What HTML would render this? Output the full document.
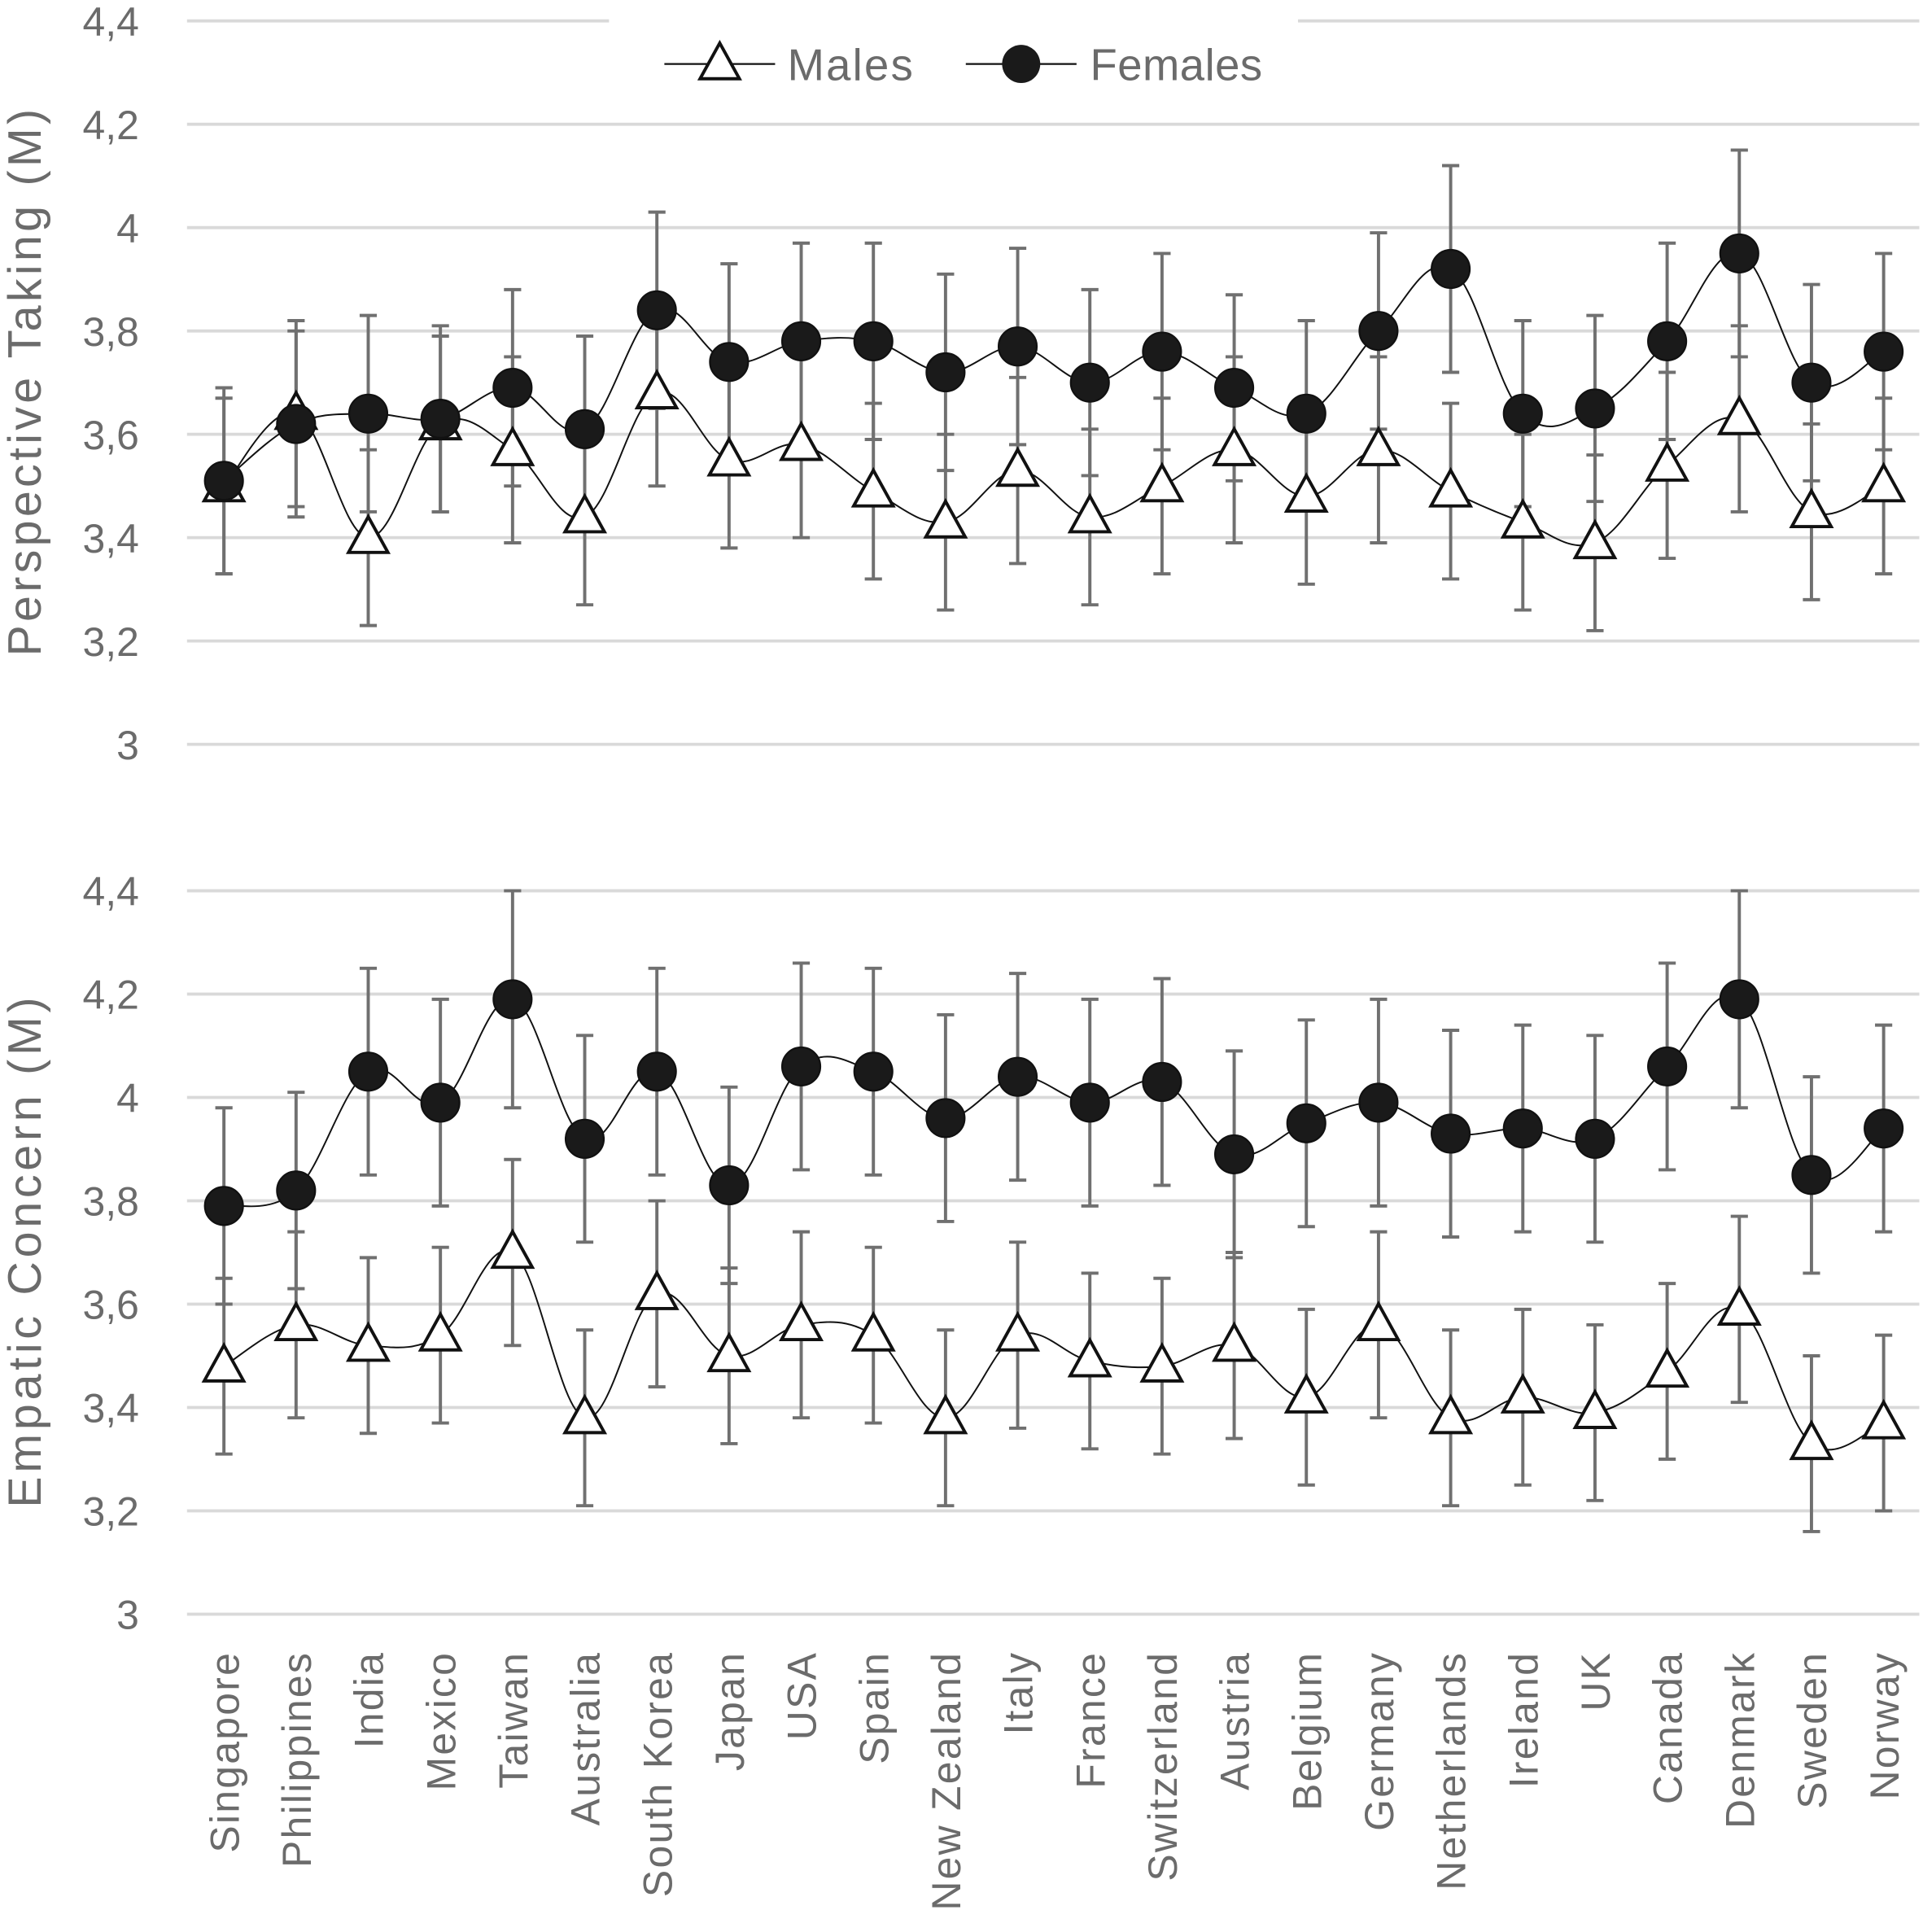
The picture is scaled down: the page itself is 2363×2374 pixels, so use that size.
<!DOCTYPE html>
<html><head><meta charset="utf-8"><style>
html,body{margin:0;padding:0;background:#fff}
svg{display:block}
text{font-family:"Liberation Sans",sans-serif;fill:#6b6b6b}
</style></head><body>
<svg id="chart" width="2363" height="2374" viewBox="0 0 1563 1570.3" preserveAspectRatio="none" xmlns="http://www.w3.org/2000/svg"></svg>
<script>
const categories=["Singapore","Philippines","India","Mexico","Taiwan","Australia","South Korea","Japan","USA","Spain","New Zealand","Italy","France","Switzerland","Austria","Belgium","Germany","Netherlands","Ireland","UK","Canada","Denmark","Sweden","Norway"];
const ptMales=[3.50,3.64,3.40,3.62,3.57,3.44,3.68,3.55,3.58,3.49,3.43,3.53,3.44,3.50,3.57,3.48,3.57,3.49,3.43,3.39,3.54,3.63,3.45,3.50];
const ptMalesErr=[0.17,0.18,0.17,0.17,0.18,0.17,0.18,0.17,0.18,0.17,0.17,0.18,0.17,0.17,0.18,0.17,0.18,0.17,0.17,0.17,0.18,0.18,0.17,0.17];
const ptFemales=[3.51,3.62,3.64,3.63,3.69,3.61,3.84,3.74,3.78,3.78,3.72,3.77,3.70,3.76,3.69,3.64,3.80,3.92,3.64,3.65,3.78,3.95,3.70,3.76];
const ptFemalesErr=[0.18,0.18,0.19,0.18,0.19,0.18,0.19,0.19,0.19,0.19,0.19,0.19,0.18,0.19,0.18,0.18,0.19,0.20,0.18,0.18,0.19,0.20,0.19,0.19];
const ecMales=[3.48,3.56,3.52,3.54,3.70,3.38,3.62,3.50,3.56,3.54,3.38,3.54,3.49,3.48,3.52,3.42,3.56,3.38,3.42,3.39,3.47,3.59,3.33,3.37];
const ecMalesErr=[0.17,0.18,0.17,0.17,0.18,0.17,0.18,0.17,0.18,0.17,0.17,0.18,0.17,0.17,0.18,0.17,0.18,0.17,0.17,0.17,0.17,0.18,0.17,0.17];
const ecFemales=[3.79,3.82,4.05,3.99,4.19,3.92,4.05,3.83,4.06,4.05,3.96,4.04,3.99,4.03,3.89,3.95,3.99,3.93,3.94,3.92,4.06,4.19,3.85,3.94];
const ecFemalesErr=[0.19,0.19,0.20,0.20,0.21,0.20,0.20,0.19,0.20,0.20,0.20,0.20,0.20,0.20,0.20,0.20,0.20,0.20,0.20,0.20,0.20,0.21,0.19,0.20];
const yTicks=[3,3.2,3.4,3.6,3.8,4,4.2,4.4];
const yTickLabels=["3","3,2","3,4","3,6","3,8","4","4,2","4,4"];

const NS="http://www.w3.org/2000/svg";
const svg=document.getElementById('chart');
function mk(tag,attrs,parent){const e=document.createElementNS(NS,tag);for(const k in attrs)e.setAttribute(k,attrs[k]);(parent||svg).appendChild(e);return e;}
const xScale=i=>182+i*(1531-182)/(categories.length-1);
function yScaleFor(top){return v=>top+(4.4-v)*420;}
function smoothPath(pts){let d=`M${pts[0][0]},${pts[0][1]}`;for(let i=0;i<pts.length-1;i++){const p0=pts[i-1]||pts[i],p1=pts[i],p2=pts[i+1],p3=pts[i+2]||p2;const t=0.18;d+=` C${p1[0]+(p2[0]-p0[0])*t},${p1[1]+(p2[1]-p0[1])*t} ${p2[0]-(p3[0]-p1[0])*t},${p2[1]-(p3[1]-p1[1])*t} ${p2[0]},${p2[1]}`;}return d;}
function tri(g,cx,cy){return mk('path',{d:`M${cx},${cy-17} L${cx+16},${cy+12} L${cx-16},${cy+12} Z`,fill:'#fff',stroke:'#111','stroke-width':2.6},g);}

function panel(name,top,title,titleLen,males,mErr,females,fErr){
  const y=yScaleFor(top);
  const g=mk('g',{});
  
  
  yTicks.forEach((t,i)=>{
    const l=mk('line',{x1:152,x2:1560,y1:y(t),y2:y(t),stroke:'#d9d9d9','stroke-width':2.5},g);
    
    
    const tx=mk('text',{x:113,y:y(t)+12,'text-anchor':'end','font-size':33},g);
    tx.textContent=yTickLabels[i];
    
    
  });
  const mid=(y(3)+y(4.4))/2;
  const tt=mk('text',{x:0,y:0,transform:`translate(33,${mid}) rotate(-90)`,'text-anchor':'middle','font-size':38,textLength:titleLen,lengthAdjust:'spacing'},g);
  tt.textContent=title;
  
  
  [[males,mErr],[females,fErr]].forEach(([vals,err])=>{
    vals.forEach((v,i)=>{
      const x=xScale(i);
      const e=mk('path',{d:`M${x},${y(v+err[i])}V${y(v-err[i])}M${x-7},${y(v+err[i])}H${x+7}M${x-7},${y(v-err[i])}H${x+7}`,stroke:'#707070','stroke-width':2.6,fill:'none'},g);
      
      
    });
  });
  const ml=mk('path',{d:smoothPath(males.map((v,i)=>[xScale(i),y(v)])),fill:'none',stroke:'#111','stroke-width':1.3},g);
  
  
  const fl=mk('path',{d:smoothPath(females.map((v,i)=>[xScale(i),y(v)])),fill:'none',stroke:'#111','stroke-width':1.3},g);
  
  
  males.forEach((v,i)=>{const m=tri(g,xScale(i),y(v));
    
    });
  females.forEach((v,i)=>{const c=mk('circle',{cx:xScale(i),cy:y(v),r:15.5,fill:'#1a1a1a',stroke:'#111','stroke-width':1.5},g);
    
    });
}
panel('perspective-taking',17,'Perspective Taking (M)',445,ptMales,ptMalesErr,ptFemales,ptFemalesErr);
panel('empatic-concern',724,'Empatic Concern  (M)',415,ecMales,ecMalesErr,ecFemales,ecFemalesErr);

categories.forEach((c,i)=>{
  const t=mk('text',{x:0,y:0,transform:`translate(${xScale(i)+12},1342) rotate(-90)`,'text-anchor':'end','font-size':33,'letter-spacing':1.5});
  t.textContent=c;
  
  
});

const lg=mk('g',{});


mk('rect',{x:495,y:5,width:560,height:75,fill:'#fff'},lg);
mk('line',{x1:540,x2:630,y1:52,y2:52,stroke:'#111','stroke-width':1.5},lg);
const lt=tri(lg,585,52);


const t1=mk('text',{x:640,y:65,'font-size':36,textLength:102},lg);t1.textContent='Males';


mk('line',{x1:785,x2:875,y1:52,y2:52,stroke:'#111','stroke-width':1.5},lg);
const lc=mk('circle',{cx:830,cy:52,r:15.5,fill:'#1a1a1a'},lg);


const t2=mk('text',{x:886,y:65,'font-size':36,textLength:140},lg);t2.textContent='Females';


</script>
</body></html>
